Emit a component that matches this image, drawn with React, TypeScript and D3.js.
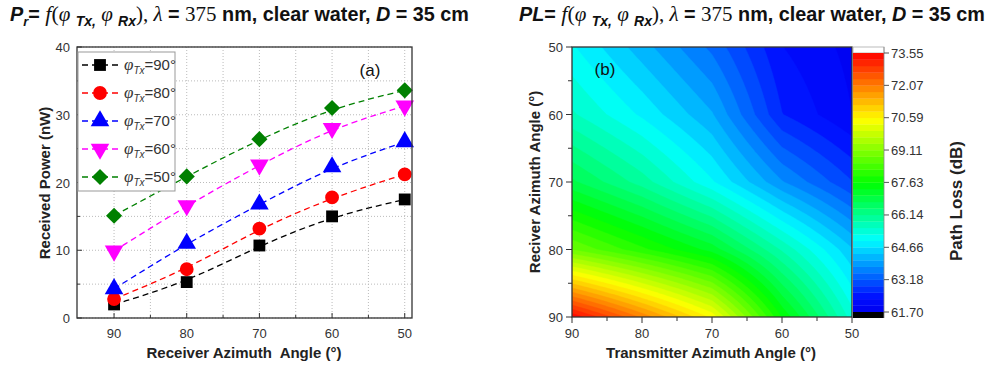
import * as d3 from 'd3';

// left panel: received power (nW) vs receiver azimuth angle, one series per Tx angle
const rxAngles = [90, 80, 70, 60, 50];
const txLabels = ['90', '80', '70', '60', '50'];
const powerTx90 = [2.0, 5.3, 10.7, 15.0, 17.5];
const powerTx80 = [2.8, 7.2, 13.2, 17.8, 21.2];
const powerTx70 = [4.3, 11.0, 16.8, 22.3, 26.0];
const powerTx60 = [9.9, 16.6, 22.6, 28.0, 31.3];
const powerTx50 = [15.1, 20.9, 26.4, 31.0, 33.6];
const seriesColors = ['#000000', '#ff0000', '#0000ff', '#ff00ff', '#008000'];

// right panel: path loss (dB) grid, rows = Rx angle (50 -> 90), columns = Tx angle (90 -> 50)
const txGrid = [90, 80, 70, 60, 50];
const rxGrid = [50, 60, 70, 80, 90];
const plRx50 = [65.0, 64.2, 63.4, 62.3, 61.9];
const plRx60 = [65.6, 64.9, 64.1, 62.6, 62.0];
const plRx70 = [66.8, 66.0, 65.0, 63.8, 62.9];
const plRx80 = [68.8, 68.0, 67.2, 65.8, 64.4];
const plRx90 = [73.5, 72.0, 70.5, 67.6, 65.4];
const colorbarTicks = ['61.70', '63.18', '64.66', '66.14', '67.63', '69.11', '70.59', '72.07', '73.55'];

const SANS = 'Arial, "Liberation Sans", sans-serif';
const SERIF = '"Times New Roman", "Liberation Serif", serif';
const TICK = '#333333';

const powerSeries = [powerTx90, powerTx80, powerTx70, powerTx60, powerTx50];
const plGrid = [plRx50, plRx60, plRx70, plRx80, plRx90];

function markerPath(i: number) {
  const types = [d3.symbolSquare, d3.symbolCircle, d3.symbolTriangle, d3.symbolTriangle, d3.symbolSquare];
  const sizes = [140, 150, 150, 150, 130];
  return d3.symbol().type(types[i]).size(sizes[i])() as string;
}

function markerTransform(i: number, x: number, y: number) {
  if (i === 3) return `translate(${x},${y}) rotate(180)`;
  if (i === 4) return `translate(${x},${y}) rotate(45)`;
  return `translate(${x},${y})`;
}

function LeftPanel() {
  const x = d3.scaleLinear().domain([95.1, 49]).range([77, 412]);
  const y = d3.scaleLinear().domain([0, 40]).range([318, 47]);
  const line = d3
    .line<number>()
    .x((_, i) => x(rxAngles[i]))
    .y((v) => y(v))
    .curve(d3.curveBasis);

  const xMinor = d3.range(90, 49, -5);
  const yMinor = d3.range(0, 41, 5);

  return (
    <g>
      {xMinor.map((v) => (
        <line key={`gx${v}`} x1={x(v)} x2={x(v)} y1={47} y2={318} stroke="#bbbbbb" strokeWidth={1} strokeDasharray="1,2" />
      ))}
      {yMinor.map((v) => (
        <line key={`gy${v}`} x1={77} x2={412} y1={y(v)} y2={y(v)} stroke="#bbbbbb" strokeWidth={1} strokeDasharray="1,2" />
      ))}

      {powerSeries.map((s, i) => (
        <path key={`l${i}`} d={line(s) as string} fill="none" stroke={seriesColors[i]} strokeWidth={1.3} strokeDasharray="6,4" />
      ))}
      {powerSeries.map((s, i) =>
        s.map((v, j) => (
          <path key={`m${i}-${j}`} d={markerPath(i)} transform={markerTransform(i, x(rxAngles[j]), y(v))} fill={seriesColors[i]} />
        ))
      )}

      <rect x={77} y={47} width={335} height={271} fill="none" stroke="#333" strokeWidth={1.3} />
      {xMinor.map((v) => (
        <line key={`tx${v}`} x1={x(v)} x2={x(v)} y1={318} y2={v % 10 === 0 ? 313 : 315} stroke="#333" />
      ))}
      {yMinor.map((v) => (
        <line key={`ty${v}`} x1={77} x2={v % 10 === 0 ? 82 : 80} y1={y(v)} y2={y(v)} stroke="#333" />
      ))}
      {rxAngles.map((v) => (
        <text key={`xl${v}`} x={x(v)} y={338} textAnchor="middle" fontFamily={SANS} fontSize={13} fill={TICK}>
          {v}
        </text>
      ))}
      {[0, 10, 20, 30, 40].map((v) => (
        <text key={`yl${v}`} x={70} y={y(v) + 5} textAnchor="end" fontFamily={SANS} fontSize={13} fill={TICK}>
          {v}
        </text>
      ))}

      {/* legend */}
      <rect x={78} y={52} width={97} height={139} fill="#ffffff" stroke="#999" strokeWidth={1} />
      {txLabels.map((t, i) => {
        const ly = 65 + i * 28;
        return (
          <g key={`lg${i}`}>
            <line x1={82} x2={118} y1={ly} y2={ly} stroke={seriesColors[i]} strokeWidth={1.3} strokeDasharray="6,4" />
            <path d={markerPath(i)} transform={markerTransform(i, 100, ly)} fill={seriesColors[i]} />
            <text x={124} y={ly + 5} fontFamily={SANS} fontSize={15} fill="#333">
              <tspan fontFamily={SERIF} fontStyle="italic" fontSize={17}>φ</tspan>
              <tspan fontStyle="italic" fontSize={10} dy={4}>Tx</tspan>
              <tspan dy={-4}>={t}°</tspan>
            </text>
          </g>
        );
      })}

      <text x={370} y={76} textAnchor="middle" fontFamily={SANS} fontSize={17} fill="#111">(a)</text>

      <text x={244} y={358} textAnchor="middle" fontFamily={SANS} fontSize={15} fontWeight="bold" fill="#222">
        {'Receiver Azimuth\u00a0 Angle (°)'}
      </text>
      <text transform="translate(50,183) rotate(-90)" textAnchor="middle" fontFamily={SANS} fontSize={15} fontWeight="bold" fill="#222">
        Received Power (nW)
      </text>
    </g>
  );
}

function RightPanel() {
  const x = d3.scaleLinear().domain([90, 50]).range([572, 852]);
  const y = d3.scaleLinear().domain([50, 90]).range([47, 317]);
  const cb = d3.scaleLinear().domain([61.7, 73.55]).range([312, 53]);
  const color = d3
    .scaleLinear<string>()
    .domain([61.7, 62.4, 65.0, 67.6, 70.5, 73.55])
    .range(['#0000f0', '#0010ff', '#00ffff', '#00ff00', '#ffff00', '#ff0000'])
    .clamp(true);

  const nLevels = 40;
  const step = (73.55 - 61.7) / nLevels;
  const levels = d3.range(nLevels).map((k) => 61.7 + k * step);

  // resample the 5x5 grid for smooth contour rendering
  const N = 81;
  const fine: number[] = new Array(N * N);
  for (let j = 0; j < N; j++) {
    const gy = (j / (N - 1)) * (rxGrid.length - 1);
    const r0 = Math.min(Math.floor(gy), rxGrid.length - 2);
    const fy = gy - r0;
    for (let i = 0; i < N; i++) {
      const gx = (i / (N - 1)) * (txGrid.length - 1);
      const c0 = Math.min(Math.floor(gx), txGrid.length - 2);
      const fx = gx - c0;
      const a = plGrid[r0][c0] * (1 - fx) + plGrid[r0][c0 + 1] * fx;
      const b = plGrid[r0 + 1][c0] * (1 - fx) + plGrid[r0 + 1][c0 + 1] * fx;
      fine[j * N + i] = a * (1 - fy) + b * fy;
    }
  }
  const contours = d3.contours().size([N, N]).thresholds(levels)(fine);
  const px = d3.scaleLinear().domain([0.5, N - 0.5]).range([572, 852]);
  const py = d3.scaleLinear().domain([0.5, N - 0.5]).range([47, 317]);
  const path = d3.geoPath(
    d3.geoTransform({
      point(this: any, cx: number, cy: number) {
        this.stream.point(px(cx), py(cy));
      },
    })
  );

  const xMinor = d3.range(90, 49, -5);
  const yMinor = d3.range(50, 91, 5);

  return (
    <g>
      <defs>
        <clipPath id="plotClip">
          <rect x={572} y={47} width={280} height={270} />
        </clipPath>
      </defs>
      <g clipPath="url(#plotClip)">
        {contours.map((c, k) => (
          <path key={`c${k}`} d={path(c as any) as string} fill={color(c.value + step / 2)} stroke={color(c.value + step / 2)} strokeWidth={0.4} />
        ))}
      </g>
      <rect x={572} y={47} width={280} height={270} fill="none" stroke="#333" strokeWidth={1.3} />
      {xMinor.map((v) => (
        <line key={`tx${v}`} x1={x(v)} x2={x(v)} y1={317} y2={v % 10 === 0 ? 323 : 321} stroke="#333" />
      ))}
      {yMinor.map((v) => (
        <line key={`ty${v}`} x1={572} x2={v % 10 === 0 ? 566 : 568} y1={y(v)} y2={y(v)} stroke="#333" />
      ))}
      {txGrid.map((v) => (
        <text key={`xl${v}`} x={x(v)} y={338} textAnchor="middle" fontFamily={SANS} fontSize={13} fill={TICK}>
          {v}
        </text>
      ))}
      {rxGrid.map((v) => (
        <text key={`yl${v}`} x={563} y={y(v) + 5} textAnchor="end" fontFamily={SANS} fontSize={13} fill={TICK}>
          {v}
        </text>
      ))}
      <text x={605} y={75} textAnchor="middle" fontFamily={SANS} fontSize={17} fill="#111">(b)</text>

      {/* colour bar */}
      <rect x={853} y={47} width={31} height={6} fill="#ffffff" stroke="#aaa" strokeWidth={0.8} />
      {levels.map((lv, k) => (
        <rect key={`cb${k}`} x={853} y={cb(lv + step)} width={31} height={cb(lv) - cb(lv + step) + 0.3} fill={color(lv + step / 2)} />
      ))}
      <rect x={853} y={312} width={31} height={6} fill="#000000" />
      <line x1={884} x2={884} y1={47} y2={318} stroke="#888" strokeWidth={0.8} />
      {colorbarTicks.map((t) => (
        <g key={`cbt${t}`}>
          <line x1={884} x2={889} y1={cb(+t)} y2={cb(+t)} stroke="#555" />
          <text x={891} y={cb(+t) + 4.5} fontFamily={SANS} fontSize={13} fill={TICK}>
            {t}
          </text>
        </g>
      ))}

      <text x={711} y={358} textAnchor="middle" fontFamily={SANS} fontSize={15} fontWeight="bold" fill="#222">
        Transmitter Azimuth Angle (°)
      </text>
      <text transform="translate(540,182) rotate(-90)" textAnchor="middle" fontFamily={SANS} fontSize={15} fontWeight="bold" fill="#222">
        Reciver Azimuth Angle (°)
      </text>
      <text transform="translate(962,201) rotate(-90)" textAnchor="middle" fontFamily={SANS} fontSize={17} fontWeight="bold" fill="#222">
        Path Loss (dB)
      </text>
    </g>
  );
}

function Title({ x, lead, leadSub }: { x: number; lead: string; leadSub?: string }) {
  return (
    <text x={x} y={21} fontFamily={SANS} fontSize={19.8} fontWeight="bold" fill="#111">
      <tspan fontStyle="italic">{lead}</tspan>
      {leadSub && (
        <tspan fontStyle="italic" fontSize={13} dy={5}>
          {leadSub}
        </tspan>
      )}
      <tspan dy={leadSub ? -5 : 0}>= </tspan>
      <tspan fontFamily={SERIF} fontStyle="italic" fontWeight="normal" fontSize={22}>f</tspan>
      <tspan fontFamily={SERIF} fontWeight="normal" fontSize={22}>(</tspan>
      <tspan fontFamily={SERIF} fontStyle="italic" fontWeight="normal" fontSize={21}>φ </tspan>
      <tspan fontStyle="italic" fontSize={14} dy={5}>Tx,</tspan>
      <tspan fontFamily={SERIF} fontStyle="italic" fontWeight="normal" fontSize={21} dy={-5}> φ </tspan>
      <tspan fontStyle="italic" fontSize={14} dy={5}>Rx</tspan>
      <tspan fontFamily={SERIF} fontWeight="normal" fontSize={21} dy={-5}>), </tspan>
      <tspan fontFamily={SERIF} fontStyle="italic" fontWeight="normal" fontSize={21}>λ</tspan>
      <tspan> = </tspan>
      <tspan fontFamily={SERIF} fontWeight="normal" fontSize={21}>375</tspan>
      <tspan> nm, clear water, </tspan>
      <tspan fontStyle="italic">D</tspan>
      <tspan> = 35 cm</tspan>
    </text>
  );
}

export default function App() {
  return (
    <div style={{ position: 'fixed', left: 0, top: 0, background: '#ffffff' }}>
      <svg width={985} height={366} viewBox="0 0 985 366" style={{ display: 'block' }}>
        <rect width={985} height={366} fill="#ffffff" />
        <Title x={10} lead="P" leadSub="r" />
        <Title x={519} lead="PL" />
        <LeftPanel />
        <RightPanel />
      </svg>
    </div>
  );
}
